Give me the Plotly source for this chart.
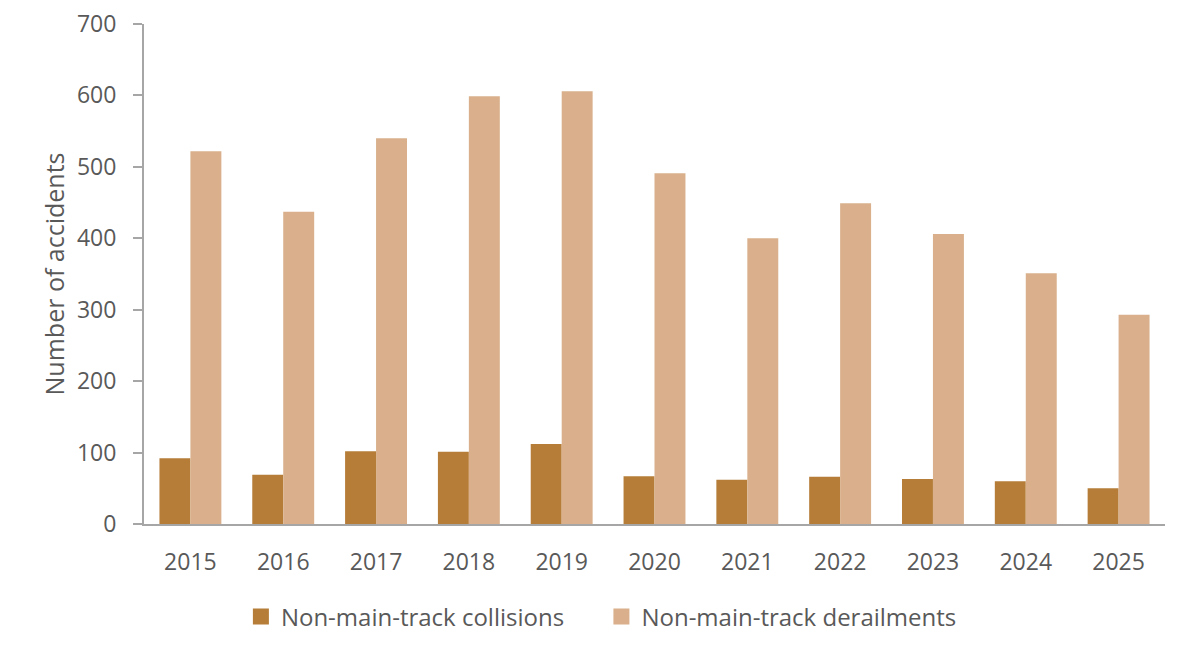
import plotly.graph_objects as go

years = ["2015", "2016", "2017", "2018", "2019", "2020", "2021", "2022", "2023", "2024", "2025"]
collisions = [92, 69, 102, 101, 112, 67, 62, 66, 63, 60, 50]
derailments = [522, 437, 540, 599, 606, 491, 400, 449, 406, 351, 293]
y_ticks = [0, 100, 200, 300, 400, 500, 600, 700]
series_names = ["Non-main-track collisions", "Non-main-track derailments"]
series_colors = ["#B57D37", "#D9B08B"]

TXT = "#595959"
FONT = "Open Sans, Noto Sans, sans-serif"

fig = go.Figure()
for vals, name, col in zip([collisions, derailments], series_names, series_colors):
    fig.add_trace(go.Bar(x=years, y=vals, name=name, showlegend=False,
                         marker=dict(color=col, line=dict(width=0))))
# legend entries with larger square swatches, one legend box each
for name, col, lg in zip(series_names, series_colors, ["legend", "legend2"]):
    fig.add_trace(go.Scatter(x=[None], y=[None], mode="markers", name=name, legend=lg,
                             marker=dict(symbol="square", size=16, color=col)))

legend_common = dict(orientation="h", xanchor="left", y=-0.186, yanchor="middle",
                     font=dict(size=24, color=TXT), itemsizing="trace",
                     bgcolor="rgba(0,0,0,0)")

fig.update_layout(
    width=1200, height=655,
    paper_bgcolor="white", plot_bgcolor="white",
    margin=dict(l=136, r=43, t=16, b=139, autoexpand=False),
    barmode="group", bargap=0.333, bargroupgap=0,
    font=dict(family=FONT, color=TXT, size=23),
    showlegend=True,
    legend=dict(x=0.0949, **legend_common),
    legend2=dict(x=0.448, **legend_common),
    xaxis=dict(showline=True, linecolor="#A6A6A6", linewidth=2, ticks="", automargin=False,
               ticklabelstandoff=16, ticklabeloverflow="allow",
               tickfont=dict(size=23, color=TXT), showgrid=False, zeroline=False),
    yaxis=dict(range=[0, 700], tickvals=y_ticks, showline=True, linecolor="#A6A6A6", linewidth=2,
               ticks="outside", ticklen=9, tickcolor="#A6A6A6", tickwidth=2, automargin=False,
               ticklabelstandoff=12, ticklabeloverflow="allow",
               tickfont=dict(size=23, color=TXT), showgrid=False, zeroline=False,
               title=dict(text="Number of accidents", font=dict(size=25, color=TXT), standoff=5)),
)

fig.write_html("out.html")
